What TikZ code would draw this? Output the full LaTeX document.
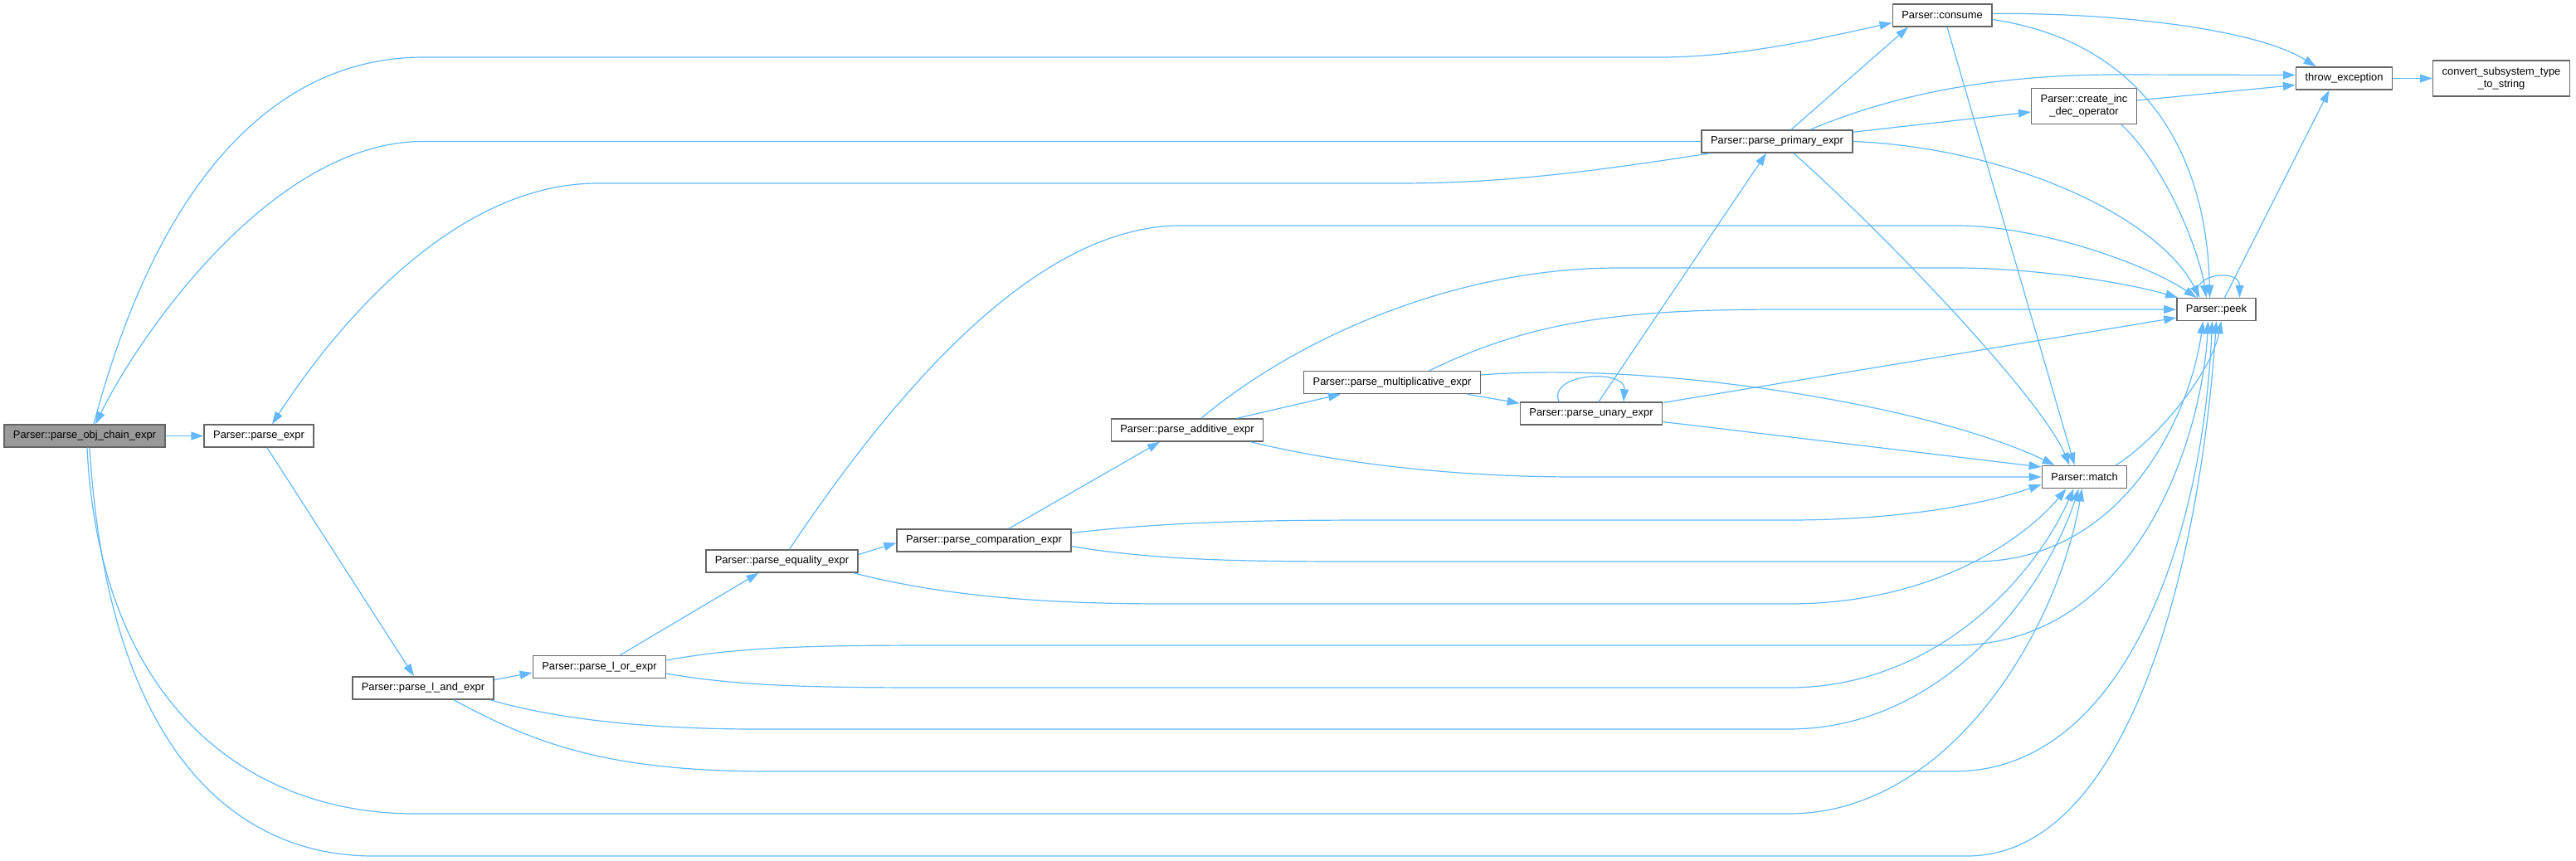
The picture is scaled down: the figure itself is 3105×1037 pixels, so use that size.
\documentclass[tikz,border=0pt]{standalone}
\usepackage{fontspec}
\setmainfont{Liberation Sans}
\usetikzlibrary{
    arrows.meta,
    calc
}
\definecolor{callblue}{HTML}{63B8FF}
\definecolor{boxgray}{HTML}{666666}
\definecolor{boxfill}{HTML}{999999}
\tikzset{
    % Nodes
    func/.style={draw=boxgray,line width=1.5pt,fill=white,text=black,inner xsep=11pt,inner ysep=3pt,minimum height=27pt,align=center,font=\fontsize{12.9}{15}\selectfont},
    this func/.style={func,fill=boxfill},
    two lines/.style={minimum height=43pt},
    %
    % Arrows
    call tip/.tip={Triangle[length=15pt,width=10pt]},
    call/.style={callblue,line width=1.2pt,-{call tip}}
}

\begin{document}
\begin{tikzpicture}[x=1pt,y=-1pt]
    \useasboundingbox (0,0) rectangle (3105,1037);
    % functions
    \node[this func] (obj) at (102,525.5) {Parser::parse\_obj\_chain\_expr};
    \node[func] (pexpr) at (312,525.5) {Parser::parse\_expr};
    \node[func] (land) at (510,829.5) {Parser::parse\_l\_and\_expr};
    \node[func] (lor) at (722.5,804) {Parser::parse\_l\_or\_expr};
    \node[func] (equal) at (942.5,676.5) {Parser::parse\_equality\_expr};
    \node[func] (compar) at (1186,651.5) {Parser::parse\_comparation\_expr};
    \node[func] (addit) at (1431,518.5) {Parser::parse\_additive\_expr};
    \node[func] (mult) at (1678,461) {Parser::parse\_multiplicative\_expr};
    \node[func] (unary) at (1918,498.5) {Parser::parse\_unary\_expr};
    \node[func] (prim) at (2142,170.5) {Parser::parse\_primary\_expr};
    \node[func] (consume) at (2341,18.5) {Parser::consume};
    \node[func,two lines] (incdec) at (2512,128) {Parser::create\_inc\\\_dec\_operator};
    \node[func] (throw) at (2825.5,94.5) {throw\_exception};
    \node[func,two lines] (convert) at (3015,94.5) {convert\_subsystem\_type\\\_to\_string};
    \node[func] (peek) at (2671.5,373) {Parser::peek};
    \node[func] (match) at (2512.5,575) {Parser::match};

    % calls along the chain
    \draw[call] (obj.east) -- (pexpr.west);
    \draw[call] ($(pexpr.south)+(10,0)$) -- ($(land.north)+(-11,0)$);
    \draw[call] ($(land.east)+(0,-10)$) -- ($(lor.west)+(0,7)$);
    \draw[call] ($(lor.north)+(25,0)$) -- ($(equal.south)+(-28,0)$);
    \draw[call] ($(equal.east)+(0,-8)$) -- ($(compar.west)+(0,3)$);
    \draw[call] ($(compar.north)+(30,0)$) -- ($(addit.south)+(-33,0)$);
    \draw[call] ($(addit.north)+(60,0)$) -- ($(mult.south)+(-62,0)$);
    \draw[call] ($(mult.south)+(91,0)$) -- ($(unary.north west)+(0,2)$);
    \draw[call] ($(unary.north)+(-39,0)$) .. controls +(-14,-35) and +(3,-40) .. ($(unary.north)+(39,0)$);
    \draw[call] ($(unary.north)+(9,0)$) -- ($(prim.south)+(-13,0)$);

    % back to the start
    \draw[call] (prim.west) -- (510,170.5) .. controls (330,170.5) and (170,400) .. ($(obj.north)+(13,0)$);
    \draw[call] ($(prim.south west)+(11,0)$) .. controls (1900,210) and (1800,221) .. (1684,221) -- (720,221) .. controls (560,221) and (420,370) .. ($(pexpr.north)+(16,0)$);
    \draw[call] ($(obj.north)+(11,0)$) .. controls (190,220) and (330,69) .. (510,69) -- (2000,69) .. controls (2100,69) and (2200,45) .. ($(consume.west)+(0,9)$);

    % primary
    \draw[call] ($(prim.north)+(17,0)$) -- ($(consume.south)+(-41,0)$);
    \draw[call] ($(prim.north east)+(0,3)$) -- ($(incdec.west)+(0,7)$);
    \draw[call] ($(prim.north)+(40,0)$) .. controls (2280,115) and (2400,90) .. (2550,90) -- ($(throw.west)+(0,-4)$);
    \draw[call] ($(prim.south)+(20,0)$) .. controls (2280,290) and (2460,480) .. ($(match.north)+(-18,0)$);
    \draw[call] (prim.east) .. controls (2420,178) and (2600,260) .. ($(peek.north)+(-20,0)$);

    % consume, create_inc, throw
    \draw[call] ($(consume.east)+(0,-2)$) .. controls (2550,15) and (2720,35) .. ($(throw.north)+(-34,0)$);
    \draw[call] ($(consume.east)+(0,5)$) .. controls (2580,50) and (2660,180) .. ($(peek.north)+(-8,0)$);
    \draw[call] ($(consume.south)+(6,0)$) -- ($(match.north)+(-12,0)$);
    \draw[call] ($(incdec.east)+(0,-7)$) -- ($(throw.west)+(0,8)$);
    \draw[call] ($(incdec.south)+(45,0)$) .. controls (2610,200) and (2650,300) .. ($(peek.north)+(-12,0)$);
    \draw[call] (throw.east) -- (convert.west);

    % peek and match
    \draw[call] ($(peek.north)+(10,0)$) -- ($(throw.south)+(-18,0)$);
    \draw[call] ($(peek.north)+(-23,0)$) .. controls +(-8,-30) and +(0,-35) .. ($(peek.north)+(28,0)$);
    \draw[call] ($(match.north east)+(-14,0)$) .. controls (2600,530) and (2665,450) .. ($(peek.south)+(6,0)$);

    % unary, multiplicative, additive
    \draw[call] ($(unary.east)+(0,10)$) -- ($(match.west)+(0,-12)$);
    \draw[call] ($(unary.east)+(0,-13)$) -- ($(peek.west)+(0,10)$);
    \draw[call] ($(mult.east)+(0,-9)$) .. controls (2000,435) and (2330,490) .. ($(match.north west)+(16,0)$);
    \draw[call] ($(mult.north)+(45,0)$) .. controls (1850,385) and (1960,373) .. (2150,373) -- (peek.west);
    \draw[call] ($(addit.south east)+(-16,0)$) .. controls (1620,560) and (1760,575) .. (1900,575) -- (match.west);
    \draw[call] ($(addit.north)+(17,0)$) .. controls (1560,410) and (1750,323) .. (1950,323) -- (2358,323) .. controls (2450,323) and (2560,340) .. ($(peek.north west)+(2,0)$);

    % equality, comparation
    \draw[call] ($(equal.north)+(9,0)$) .. controls (1080,470) and (1250,272) .. (1423,272) -- (2358,272) .. controls (2460,272) and (2590,320) .. ($(peek.north)+(-24,0)$);
    \draw[call] ($(equal.south east)+(-6,0)$) .. controls (1150,722) and (1280,728) .. (1410,728) -- (2156,728) .. controls (2330,728) and (2440,650) .. ($(match.south)+(-22,0)$);
    \draw[call] ($(compar.east)+(0,-9)$) .. controls (1400,630) and (1500,627) .. (1658,627) -- (2156,627) .. controls (2300,627) and (2400,605) .. ($(match.west)+(0,9)$);
    \draw[call] ($(compar.east)+(0,7)$) .. controls (1400,677) and (1520,677) .. (1658,677) -- (2380,677) .. controls (2560,677) and (2640,500) .. ($(peek.south)+(-16,0)$);

    % l_or, l_and, obj chain
    \draw[call] ($(lor.east)+(0,8)$) .. controls (900,829) and (1000,829) .. (1160,829) -- (2156,829) .. controls (2330,829) and (2450,700) .. ($(match.south)+(-13,0)$);
    \draw[call] ($(lor.east)+(0,-8)$) .. controls (900,778) and (1000,778) .. (1160,778) -- (2355,778) .. controls (2580,778) and (2655,520) .. ($(peek.south)+(-10,0)$);
    \draw[call] ($(land.south east)+(-5,0)$) .. controls (680,870) and (800,879) .. (912,879) -- (2156,879) .. controls (2350,879) and (2470,700) .. ($(match.south)+(-7,0)$);
    \draw[call] ($(land.south)+(37,0)$) .. controls (650,900) and (740,930) .. (929,930) -- (2355,930) .. controls (2560,930) and (2655,650) .. ($(peek.south)+(-5,0)$);
    \draw[call] ($(obj.south)+(3,0)$) .. controls (120,850) and (300,981) .. (500,981) -- (2156,981) .. controls (2350,981) and (2480,760) .. ($(match.south)+(-3,0)$);
    \draw[call] ($(obj.south)+(6,0)$) .. controls (130,900) and (280,1032) .. (450,1032) -- (2371,1032) .. controls (2560,1032) and (2650,700) .. (peek.south);
\end{tikzpicture}
\end{document}
